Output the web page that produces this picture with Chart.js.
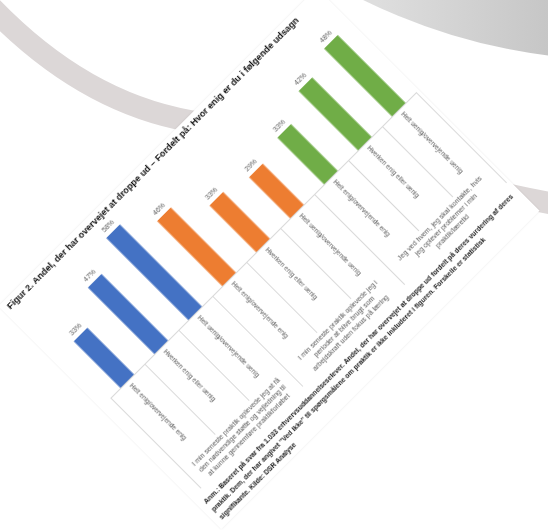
<!DOCTYPE html>
<html lang="da">
<head>
<meta charset="utf-8">
<script src="https://cdn.jsdelivr.net/npm/chart.js@4.4.1/dist/chart.umd.min.js"></script>
<style>
    html, body { margin: 0; padding: 0; }
    body {
        width: 548px; height: 531px; overflow: hidden; position: relative;
        background: #fff; font-family: "Liberation Sans", Arial, sans-serif;
    }
    /* slide decoration behind the photographed page */
    #swoosh { position: absolute; left: 0; top: 0; }
    #blob-right {
        position: absolute; left: 40px; top: -1100px; width: 1160px; height: 1160px;
        border-radius: 50%;
        background: linear-gradient(90deg, #dedede 29%, #c6c6c6 44%);
    }
    #card {
        position: absolute; left: 43.5px; top: 101.4px; width: 450px; height: 315px;
        background: #fff; transform: rotate(-45deg);
        box-shadow: 0 0 2px rgba(0,0,0,0.10);
        filter: blur(0.45px);
    }
    #title {
        position: absolute; left: 6px; top: 2px; line-height: 12px;
        font-weight: bold; font-size: 8px; color: #111; white-space: nowrap;
    }
    #chart-box { position: absolute; left: 0; top: 14px; width: 450px; height: 262px; }
    #note {
        position: absolute; left: 7px; top: 279px; line-height: 11px;
        font-weight: bold; font-size: 6.5px; color: #222; white-space: nowrap;
    }
</style>
</head>
<body>
<div id="blob-right"></div>
<svg id="swoosh" width="548" height="531">
    <path d="M -20,-5 C 30,50 100,105 190,121 S 450,185 560,205" fill="none" stroke="#dcd7d7" stroke-width="22"/>
</svg>

<div id="card">
    <div id="title">Figur 2. Andel, der har overvejet at droppe ud – Fordelt på: Hvor enig er du i følgende udsagn</div>
    <div id="chart-box"><canvas id="dropChart" width="450" height="262"></canvas></div>
    <div id="note">
        <div>Anm.: Baseret på svar fra 1.033 erhvervsuddannelseselever. Andel, der har overvejet at droppe ud fordelt på deres vurdering af deres</div>
        <div>praktik. Dem, der har angivet "Ved ikke" til spørgsmålene om praktik er ikke inkluderet i figuren. Forskelle er statistisk</div>
        <div>signifikante. Kilde: DSR Analyse</div>
    </div>
</div>

<script>
// Data
const answers = ['Helt enig/overvejende enig', 'Hverken enig eller uenig', 'Helt uenig/overvejende uenig'];
const statements = [
    ['I min seneste praktik oplevede jeg at få', 'den nødvendige støtte og vejledning til', 'at kunne gennemføre praktikforløbet'],
    ['I min seneste praktik oplevede jeg i', 'perioder at blive brugt som', 'arbejdskraft uden fokus på læring'],
    ['Jeg ved hvem, jeg skal kontakte, hvis', 'jeg oplever problemer i min', 'praktik/læretid']
];
const dropoutShare = [33, 47, 58, 46, 33, 29, 33, 42, 48];
const statementColors = ['#4472C4', '#ED7D31', '#70AD47'];

// One bar per statement/answer pair
const barLabels = [];
const barColors = [];
statements.forEach((s, g) => {
    answers.forEach(a => {
        barLabels.push(a);
        barColors.push(statementColors[g]);
    });
});

// Fit a text line to a given width
function fitWidth(el, target, weight) {
    const ctx = document.createElement('canvas').getContext('2d');
    ctx.font = weight + ' 10px "Liberation Sans"';
    const w = ctx.measureText(el.textContent.trim()).width;
    return 10 * target / w;
}
const titleEl = document.getElementById('title');
titleEl.style.fontSize = fitWidth(titleEl, 409, 'bold') + 'px';
const noteEl = document.getElementById('note');
noteEl.style.fontSize = fitWidth(noteEl.children[0], 435, 'bold') + 'px';

// Multi-level category axis + value labels
const axisLabels = {
    id: 'axisLabels',
    afterDraw(chart) {
        const { ctx, chartArea } = chart;
        const step = (chartArea.right - chartArea.left) / barLabels.length;
        const base = chartArea.bottom;
        ctx.save();

        // axis line and separators
        ctx.strokeStyle = '#d9d9d9';
        ctx.lineWidth = 1;
        ctx.beginPath();
        ctx.moveTo(chartArea.left, Math.round(base) + 0.5);
        ctx.lineTo(chartArea.right, Math.round(base) + 0.5);
        for (let i = 0; i <= barLabels.length; i++) {
            const px = Math.round(chartArea.left + i * step) + 0.5;
            const len = i % answers.length === 0 ? 128 : 100;
            ctx.moveTo(px, base);
            ctx.lineTo(px, base + len);
        }
        ctx.stroke();

        // answer labels, running downwards
        ctx.fillStyle = '#595959';
        ctx.font = '6.5px "Liberation Sans"';
        ctx.textAlign = 'left';
        ctx.textBaseline = 'middle';
        barLabels.forEach((lab, i) => {
            const px = chart.scales.x.getPixelForValue(i);
            ctx.save();
            ctx.translate(px, base + 5);
            ctx.rotate(Math.PI / 2);
            ctx.fillText(lab, 0, 0);
            ctx.restore();
        });

        // statement labels
        ctx.font = '7px "Liberation Sans"';
        ctx.textAlign = 'center';
        statements.forEach((lines, g) => {
            const cx = chartArea.left + (g * answers.length + answers.length / 2) * step;
            lines.forEach((line, k) => ctx.fillText(line, cx, base + 106 + k * 9));
        });

        // percentages above bars
        ctx.font = '7px "Liberation Sans"';
        ctx.textBaseline = 'bottom';
        chart.getDatasetMeta(0).data.forEach((bar, i) => {
            ctx.fillText(dropoutShare[i] + '%', bar.x, bar.y - 3);
        });
        ctx.restore();
    }
};

const ctx = document.getElementById('dropChart').getContext('2d');
new Chart(ctx, {
    type: 'bar',
    data: {
        labels: barLabels,
        datasets: [{
            label: 'Andel, der har overvejet at droppe ud',
            data: dropoutShare,
            backgroundColor: barColors,
            barPercentage: 0.4,
            categoryPercentage: 1
        }]
    },
    options: {
        responsive: false,
        animation: false,
        devicePixelRatio: 1,
        layout: { padding: { top: 10, bottom: 132, left: 14, right: 4 } },
        plugins: {
            legend: { display: false },
            title: { display: false },
            tooltip: { enabled: false }
        },
        scales: {
            x: { display: false },
            y: { display: false, min: 0, max: 60 }
        }
    },
    plugins: [axisLabels]
});
</script>
</body>
</html>
